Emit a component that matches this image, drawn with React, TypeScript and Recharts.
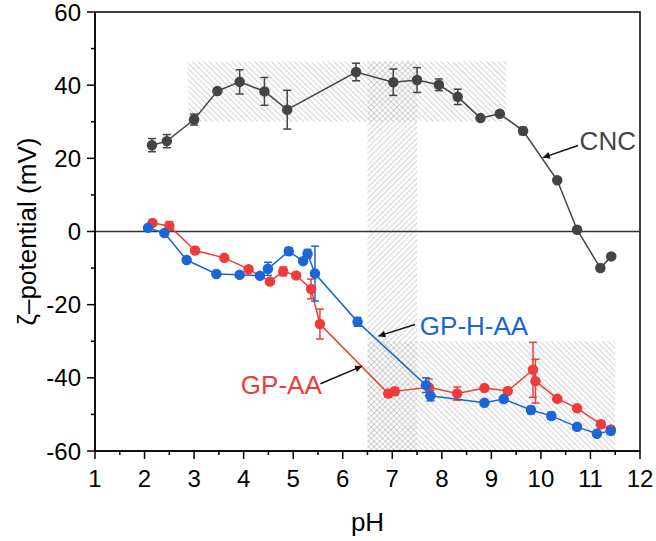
import React from "react";
import {
  LineChart,
  Line,
  XAxis,
  YAxis,
  ErrorBar,
  ReferenceArea,
  ReferenceLine,
  ReferenceDot,
} from "recharts";

// CNC
const cncPh = [2.15, 2.45, 3.0, 3.47, 3.92, 4.42, 4.88, 6.27, 7.02, 7.5, 7.94, 8.32, 8.78, 9.17, 9.64, 10.33, 10.73, 11.2, 11.42];
const cncZeta = [23.6, 24.7, 30.6, 38.4, 40.9, 38.3, 33.3, 43.6, 40.8, 41.4, 40.1, 36.8, 31.0, 32.2, 27.5, 14.0, 0.5, -10.0, -6.8];
const cncErr = [1.8, 1.8, 1.5, 0.6, 3.3, 3.8, 5.3, 2.4, 3.6, 3.4, 1.6, 2.1, 0.6, 0.6, 1.0, 0.5, 0.8, 0.8, 0.5];

// GP-AA
const gpaaPh = [2.16, 2.5, 3.02, 3.61, 4.1, 4.53, 4.8, 5.06, 5.36, 5.54, 6.92, 7.05, 7.74, 8.31, 8.86, 9.33, 9.84, 9.89, 10.33, 10.73, 11.21, 11.41];
const gpaaZeta = [2.3, 1.5, -5.2, -7.2, -10.3, -13.7, -10.9, -12.0, -15.7, -25.3, -44.3, -43.7, -42.6, -44.3, -42.8, -43.6, -37.8, -40.9, -45.7, -48.3, -52.7, -54.1];
const gpaaErr = [0.5, 1.2, 0.5, 0.5, 0.6, 0.6, 1.2, 0.5, 2.7, 4.1, 1.0, 1.0, 2.3, 1.8, 0.5, 0.8, 7.5, 6.0, 0.6, 0.5, 1.0, 0.8];

// GP-H-AA
const gphaaPh = [2.07, 2.4, 2.85, 3.45, 3.92, 4.33, 4.49, 4.91, 5.2, 5.29, 5.44, 6.3, 7.68, 7.77, 8.86, 9.25, 9.8, 10.21, 10.73, 11.13, 11.41];
const gphaaZeta = [1.0, -0.4, -7.8, -11.6, -11.8, -12.1, -10.2, -5.4, -8.1, -6.1, -11.5, -24.7, -42.0, -44.9, -46.8, -45.8, -48.8, -50.4, -53.4, -55.3, -54.5];
const gphaaErr = [0.6, 0.5, 0.6, 0.6, 0.6, 0.5, 1.8, 1.0, 0.6, 1.2, 7.5, 1.2, 2.0, 1.4, 0.5, 0.8, 1.0, 1.0, 0.6, 0.5, 1.0];

const xTicks = [1, 1.5, 2, 2.5, 3, 3.5, 4, 4.5, 5, 5.5, 6, 6.5, 7, 7.5, 8, 8.5, 9, 9.5, 10, 10.5, 11, 11.5, 12];
const yTicks = [-60, -50, -40, -30, -20, -10, 0, 10, 20, 30, 40, 50, 60];

const toRows = (ph: number[], zeta: number[], err: number[]) =>
  ph.map((p, i) => ({ ph: p, zeta: zeta[i], err: err[i] }));

const cncData = toRows(cncPh, cncZeta, cncErr);
const gpaaData = toRows(gpaaPh, gpaaZeta, gpaaErr);
const gphaaData = toRows(gphaaPh, gphaaZeta, gphaaErr);

const FONT = "'Liberation Sans', Arial, sans-serif";
const CNC_COLOR = "#444444";
const RED = "#ef3b3b";
const BLUE = "#1a66d6";

function XTick(props: any) {
  const { x, y, payload } = props;
  const major = Number.isInteger(payload.value);
  return (
    <g>
      <line x1={x} x2={x} y1={y} y2={y + (major ? 8 : 4)} stroke="#000" strokeWidth={1.5} />
      {major && (
        <text x={x} y={y + 36} textAnchor="middle" fontSize={24} fontFamily={FONT} fill="#000">
          {payload.value}
        </text>
      )}
    </g>
  );
}

function YTick(props: any) {
  const { x, y, payload } = props;
  const major = payload.value % 20 === 0;
  return (
    <g>
      <line x1={x} x2={x - (major ? 8 : 4)} y1={y} y2={y} stroke="#000" strokeWidth={1.5} />
      {major && (
        <text x={x - 14} y={y + 8.5} textAnchor="end" fontSize={24} fontFamily={FONT} fill="#000">
          {payload.value}
        </text>
      )}
    </g>
  );
}

export default function App() {
  return (
    <div style={{ position: "absolute", left: 0, top: 0, background: "#fff" }}>
      <LineChart
        width={656}
        height={541}
        margin={{ top: 12, right: 16, bottom: 10, left: 14 }}
        style={{ fontFamily: FONT }}
      >
        <defs>
          <pattern id="hatchBack" patternUnits="userSpaceOnUse" width={4} height={4} patternTransform="rotate(-45)">
            <line x1={0} y1={0} x2={0} y2={4} stroke="#a8a8a8" strokeWidth={1} />
          </pattern>
          <pattern id="hatchFwd" patternUnits="userSpaceOnUse" width={4} height={4} patternTransform="rotate(45)">
            <line x1={0} y1={0} x2={0} y2={4} stroke="#a8a8a8" strokeWidth={1} />
          </pattern>
          <marker id="arrow" viewBox="0 0 10 10" refX={10} refY={5} markerWidth={10} markerHeight={7} markerUnits="userSpaceOnUse" orient="auto">
            <path d="M0,0 L10,5 L0,10 z" fill="#111" />
          </marker>
        </defs>

        <XAxis
          type="number"
          dataKey="ph"
          domain={[1, 12]}
          ticks={xTicks}
          interval={0}
          allowDataOverflow
          height={80}
          tickSize={0}
          tickMargin={0}
          tick={<XTick />}
          axisLine={{ stroke: "#000", strokeWidth: 1.5 }}
          label={{
            content: (p: any) => (
              <text
                x={p.viewBox.x + p.viewBox.width / 2}
                y={p.viewBox.y + 80}
                textAnchor="middle"
                fontSize={26}
                fontFamily={FONT}
                fill="#000"
              >
                pH
              </text>
            ),
          }}
        />
        <YAxis
          type="number"
          domain={[-60, 60]}
          ticks={yTicks}
          interval={0}
          allowDataOverflow
          width={81}
          tickSize={0}
          tickMargin={0}
          tick={<YTick />}
          axisLine={{ stroke: "#000", strokeWidth: 1.5 }}
          label={{
            content: (p: any) => {
              const cx = p.viewBox.x + 13;
              const cy = p.viewBox.y + p.viewBox.height / 2;
              return (
                <text
                  x={cx}
                  y={cy}
                  transform={`rotate(-90 ${cx} ${cy})`}
                  textAnchor="middle"
                  dominantBaseline="central"
                  fontSize={26}
                  fontFamily={FONT}
                  fill="#000"
                >
                  ζ–potential (mV)
                </text>
              );
            },
          }}
        />

        <ReferenceArea x1={2.87} x2={9.3} y1={30} y2={46.5} fill="url(#hatchBack)" fillOpacity={1} stroke="none" />
        <ReferenceArea x1={6.5} x2={7.5} y1={-60} y2={46.5} fill="url(#hatchFwd)" fillOpacity={1} stroke="none" />
        <ReferenceArea x1={6.5} x2={11.5} y1={-60} y2={-30} fill="url(#hatchBack)" fillOpacity={1} stroke="none" />

        <ReferenceLine y={0} stroke="#333" strokeWidth={1.5} />

        <Line data={cncData} dataKey="zeta" stroke={CNC_COLOR} strokeWidth={1.5} dot={{ r: 4.5, fill: CNC_COLOR, stroke: CNC_COLOR }} isAnimationActive={false}>
          <ErrorBar dataKey="err" width={4} stroke={CNC_COLOR} strokeWidth={1.5} direction="y" />
        </Line>
        <Line data={gpaaData} dataKey="zeta" stroke={RED} strokeWidth={1.5} dot={{ r: 4.5, fill: RED, stroke: RED }} isAnimationActive={false}>
          <ErrorBar dataKey="err" width={4} stroke={RED} strokeWidth={1.5} direction="y" />
        </Line>
        <Line data={gphaaData} dataKey="zeta" stroke={BLUE} strokeWidth={1.5} dot={{ r: 4.5, fill: BLUE, stroke: BLUE }} isAnimationActive={false}>
          <ErrorBar dataKey="err" width={4} stroke={BLUE} strokeWidth={1.5} direction="y" />
        </Line>

        <ReferenceLine segment={[{ x: 10.75, y: 23.5 }, { x: 10.04, y: 20.2 }]} stroke="#111" strokeWidth={1.5} markerEnd="url(#arrow)" />
        <ReferenceLine segment={[{ x: 7.46, y: -25.4 }, { x: 6.72, y: -28.6 }]} stroke="#111" strokeWidth={1.5} markerEnd="url(#arrow)" />
        <ReferenceLine segment={[{ x: 5.55, y: -41.6 }, { x: 6.39, y: -36.8 }]} stroke="#111" strokeWidth={1.5} markerEnd="url(#arrow)" />

        <ReferenceDot x={11.35} y={24.9} r={0} stroke="none" fill="none"
          label={{ value: "CNC", position: "center", fontSize: 26, fill: CNC_COLOR, fontFamily: FONT }} />
        <ReferenceDot x={8.65} y={-25.7} r={0} stroke="none" fill="none"
          label={{ value: "GP-H-AA", position: "center", fontSize: 26, fill: BLUE, fontFamily: FONT }} />
        <ReferenceDot x={4.76} y={-42.0} r={0} stroke="none" fill="none"
          label={{ value: "GP-AA", position: "center", fontSize: 26, fill: RED, fontFamily: FONT }} />

        <ReferenceArea x1={1} x2={12} y1={-60} y2={60} fill="none" stroke="#000" strokeWidth={1.5} />
      </LineChart>
    </div>
  );
}
